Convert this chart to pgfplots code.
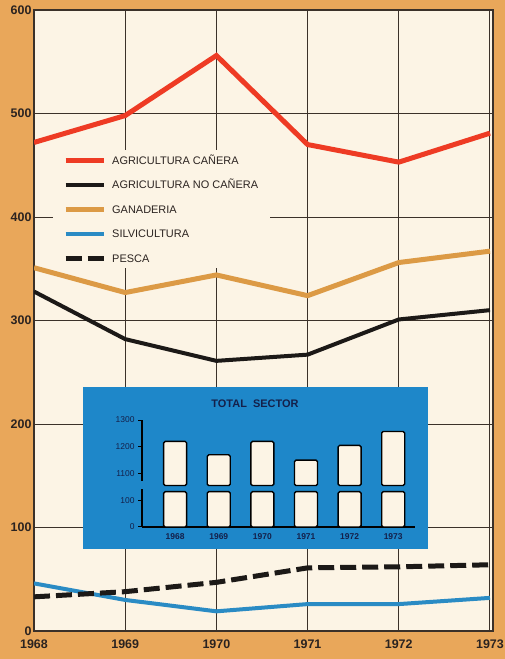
\documentclass[border=0pt]{standalone}
\usepackage{pgfplots}
\pgfplotsset{compat=1.18}
\usepackage{pgfplotstable}
\usepackage{fontspec}
\setmainfont{Liberation Sans}

\definecolor{bgorange}{HTML}{E9A75A}
\definecolor{cream}{HTML}{FCF4E5}
\definecolor{gridc}{HTML}{3B3129}
\definecolor{lred}{HTML}{EE3B24}
\definecolor{lblack}{HTML}{1C1917}
\definecolor{lorange}{HTML}{DC9A45}
\definecolor{lblue}{HTML}{2A8BC4}
\definecolor{insetblue}{HTML}{1E87C9}
\definecolor{navy}{HTML}{14204A}
\definecolor{txt}{HTML}{2B2320}

\pgfplotstableread{
year canera nocanera ganaderia silvicultura pesca
1968 472 328 351 46 33
1969 498 282 327 30 38
1970 556 261 344 19 47
1971 470 267 324 26 61
1972 453 301 356 26 62
1973 481 310 367 32 64
}\sectores

\pgfplotstableread{
year total
1968 1220
1969 1170
1970 1220
1971 1150
1972 1205
1973 1257
}\totales

\begin{document}
\begin{tikzpicture}
\path[use as bounding box, fill=bgorange] (-34bp,-28bp) rectangle (471bp,631bp);

% main chart
\begin{axis}[
  at={(0,0)}, anchor=south west,
  scale only axis, width=459bp, height=621bp,
  xmin=1968, xmax=1973.033, ymin=0, ymax=600,
  xtick={1968,1969,...,1973}, ytick={0,100,...,600},
  grid=major,
  major grid style={line width=0.9bp, color=gridc},
  tick style={draw=none},
  axis line style={line width=1.3bp, color=gridc},
  axis background/.style={fill=cream},
  ticklabel style={font=\bfseries\fontsize{12.5}{14}\selectfont, text=txt},
  xticklabel style={yshift=-5bp},
  yticklabel style={xshift=1bp},
  /pgf/number format/assume math mode=true,
  /pgf/number format/1000 sep={},
  legend image code/.code={\draw[#1] (0bp,0bp) -- (38bp,0bp);},
  legend style={at={(19bp,481bp)}, anchor=north west, fill=cream, draw=none,
    inner xsep=10bp, inner ysep=4bp, row sep=12.5bp,
    font=\fontsize{11}{13}\selectfont, text=txt,
    nodes={text height=8bp, text depth=0bp}},
  legend cell align=left,
  legend style={/tikz/every odd column/.append style={column sep=4bp}},
]
\addplot[lred, line width=5bp] table[x=year, y=canera] {\sectores};
\addplot[lblack, line width=4bp] table[x=year, y=nocanera] {\sectores};
\addplot[lorange, line width=5bp] table[x=year, y=ganaderia] {\sectores};
\addplot[lblue, line width=4bp] table[x=year, y=silvicultura] {\sectores};
\addplot[lblack, line width=5bp, dash pattern=on 16bp off 6bp] table[x=year, y=pesca] {\sectores};
\legend{AGRICULTURA CAÑERA, AGRICULTURA NO CAÑERA, GANADERIA, SILVICULTURA, PESCA}
\end{axis}

% inset panel
\fill[insetblue] (49bp,82bp) rectangle (394bp,244bp);
\node[font=\bfseries\fontsize{11}{13}\selectfont, text=navy] at (221bp,227bp) {TOTAL\ \ SECTOR};

\begin{axis}[
  at={(108bp,104bp)}, anchor=south west,
  scale only axis, width=273bp, height=107bp,
  xmin=1967.24, xmax=1973.5, ymin=0, ymax=4,
  clip=false,
  axis lines=left, axis line style={-, line width=1.3bp, color=black},
  ybar stacked, bar width=23bp,
  xtick=data, ytick={0,1,2,3,4}, yticklabels={0,100,1100,1200,1300},
  xtick style={draw=none},
  ytick style={line width=1bp, color=black},
  tick align=outside, major tick length=4bp,
  ticklabel style={font=\fontsize{8.5}{10}\selectfont, text=navy},
  xticklabel style={font=\bfseries\fontsize{8.5}{10}\selectfont, yshift=1bp},
  /pgf/number format/assume math mode=true,
  /pgf/number format/1000 sep={},
]
\addplot[fill=cream, draw=black, line width=1.4bp, rounded corners=1.5bp]
  table[x=year, y expr=1.32] {\totales};
\addplot[fill=none, draw=none]
  table[x=year, y expr=0.23] {\totales};
\addplot[fill=cream, draw=black, line width=1.4bp, rounded corners=1.5bp]
  table[x=year, y expr=(\thisrow{total}-900)/100-1.55] {\totales};
\fill[insetblue] ([xshift=-3bp]axis cs:1967.24,1.42) rectangle ([xshift=3bp]axis cs:1967.24,1.72);
\end{axis}
\end{tikzpicture}
\end{document}
